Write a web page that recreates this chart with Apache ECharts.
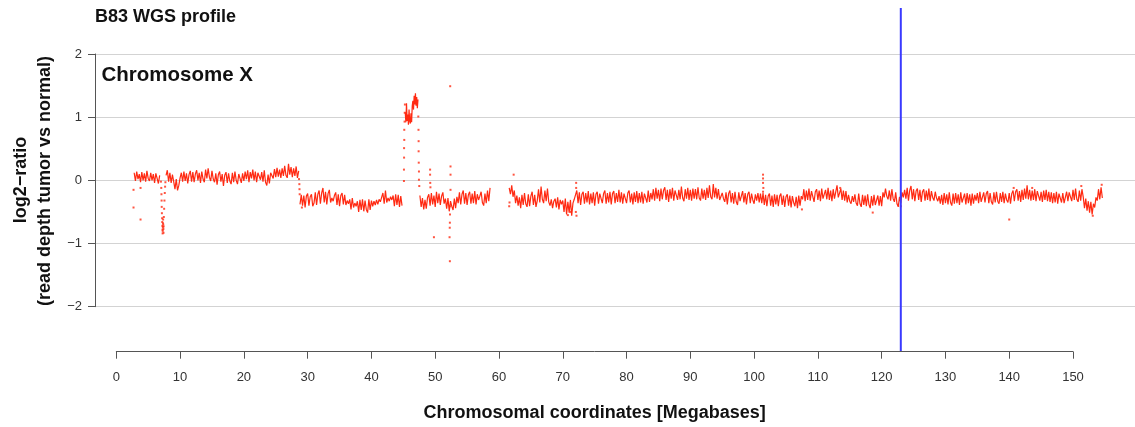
<!DOCTYPE html>
<html>
<head>
<meta charset="utf-8">
<script src="https://cdn.jsdelivr.net/npm/echarts@6/dist/echarts.min.js"></script>
<style>html,body{margin:0;padding:0;background:#fff;}#c{width:1135px;height:427px;}</style>
</head>
<body>
<div id="c"></div>
<script>
// ---- data (log2-ratio in hundredths; bins of 0.2 Mb unless noted) ----
const xTicks = [0,10,20,30,40,50,60,70,80,90,100,110,120,130,140,150];
const yTicks = [-2,-1,0,1,2];
const markerPos = 123.0; // blue vertical marker (Mb)

const segA_start = 2.8;
const segA = [12,-1,14,2,10,-3,13,0,11,-2,15,3,-1,12,0,10,-4,11,3,-5,8];

const segB_start = 7.8;
const segB = [8,16,-2,12,-4,9,
  -2,-14,2,-16,-8,4,
  12,-2,14,-1,11,-5,9,15,-2,13,-3,10,16,0,12,-4,14,2,-3,
  17,3,19,5,-1,15,2,
  -3,11,-7,9,14,-2,10,-9,8,13,-4,11,-1,-6,12,-3,14,0,-6,10,13,-4,11,
  -1,14,2,16,-3,13,3,17,0,14,-3,12,15,1,13,-2,16,
  -3,-8,9,-5,12,
  15,3,18,5,20,6,17,4,19,7,23,8,4,26,9,21,5,19,7,22,4,15];

const segC_start = 28.8;
const segC = [-38,-23,-40,-24,-43,-25,-21,-40,-26,-22,-41,
  -36,-19,-39,-22,-16,-37,-20,-12,-35,-18,-38,-21,-15,
  -35,-28,-33,-24,-19,-39,-22,-41,-24,-20,-38,-23,
  -39,-32,-37,-30,-46,-28,-43,-36,-41,-33,-50,-31,-47,-30,-49,-32,-46,-51,-30,-47,-32,-41,-33,-39,-31,
  -38,-30,-34,-27,-20,-37,-16,-35,-28,-33,-26,-31,-24,-41,-22,-39,-23,-42,-25,-40];

const segD_start = 45.3; // bins of 0.1 Mb
const segD = [108,92,122,94,104,88,112,94,90,106,92,118,126,112,134,120,138,118,132,114,128];

const segE_start = 47.6;
const segE = [-24,-42,-28,-46,-31,-45,-27,
  -22,-40,-20,-38,-24,-42,-18,-36,-21,-39,-25,-19,-37,
  -29,-45,-28,-49,-33,-41,-47,-29,-44,-26,
  -36,-19,-38,-22,-16,-37,-20,-39,-23,-18,-37,-21,-36,-17,-38,-22,-31,-25,-18,-35,-40,-21,-36,-16,-33,-12];

const segF_start = 61.6;
const segF = [-12,-22,-8,-26,-16,
  -36,-24,-40,-27,-44,-23,-39,-20,-37,-42,-22,-41,-25,-18,-39,-23,-42,
  -32,-14,-35,-10,-30,-36,-16,-33,-13,-34,
  -40,-30,-44,-33,-29,-43,-27,-46,-31,-38,
  -32,-50,-29,-54,-34,-51,-31,-56,-36,-30,
  -33,-16,-36,-19,-39,-22,-18,-37,-20,-35,-17,-38,-21,-36,-19,-40,-22,-18,-37,-21,
  -19,-36,-21,-16,-37,-20,-35,-18,-38,-21,-17,-36,-20,-34,-15,-35,-19,-37,-21,-18,
  -36,-20,-16,-35,-21,-38,-19,-34,-17,-36,-20,-35,-18,-37,-21,-19,-35,-16,-34,-20,
  -30,-14,-32,-12,-29,-15,-33,-13,-30,-16,-11,-31,-15,-34,-14,-29,-12,-32,-16,-13,
  -31,-15,-30,-10,-28,-33,-14,-29,-12,-31,-15,-32,-13,-29,-14,-30,-11,-28,-32,-13,
  -29,-15,-31,-12,-28,-8,-26,-30,-6,-27,-12,-29,-14,-31,
  -32,-20,-29,-34,-19,-38,-21,-16,-35,-20,-37,-18,-34,-39,-19,-33,-36,-17,-35,-20,
  -38,-22,-18,-36,-21,-31,-37,-22,-32,-20,-35,-21,
  -36,-20,-39,-23,-41,-25,-21,-40,-24,-42,-22,-38,-23,-41,-25,-21,-39,-24,-42,-26,
  -22,-40,-24,-43,-25,-35,-41,-26,-44,-24,-40,-25,
  -30,-14,-33,-16,-31,-13,-32,-17,-15,-34,-18,-14,-31,-16,-33,-13,-29,-32,-15,-30,
  -12,-31,-16,-33,-14,-29,-32,-8,-27,-30,-13,-31,-16,-32,-17,
  -35,-23,-33,-37,-25,-34,-22,-36,-40,-21,-37,-42,-23,-39,-24,-41,-22,-38,-44,-25,
  -40,-23,-39,-42,-24,-40,-25,-41,
  -19,-27,-13,-25,-30,-16,-32,-14,-29,-34,-19,-37,-42,-26,
  -36,-19,-27,-15,-29,-12,-32,-16,-9,-30,-14,-33,-17,-13,-31,-15,-34,-18,-14,-32,
  -16,-31,-13,-33,-17,-27,-32,-18,-28,
  -33,-25,-37,-23,-39,-20,-36,-22,-38,-19,-35,-40,-21,-37,-20,-36,-22,-39,-19,-35,
  -37,-21,-38,-20,-36,-22,-40,-21,-37,-23,-32,
  -20,-36,-18,-34,-37,-19,-35,-21,-17,-36,-20,-34,-38,-19,-35,-18,-33,-37,-20,-34,
  -18,-36,-21,-31,-35,-20,-37,-21,
  -16,-33,-18,-14,-32,-17,-34,-15,-31,-13,-29,-8,-30,-15,-32,-16,-31,-14,-33,-17,
  -15,-32,-18,-34,-16,-31,-15,-33,-18,
  -34,-19,-36,-20,-35,-18,-37,-21,-19,-35,-20,-36,-34,-18,-33,-19,
  -17,-33,-15,-31,-13,-30,-34,-16,-32,-14,
  -26,-44,-29,-48,-33,-51,-34,-54,-37,-43,-27,
  -32,-14,-30,-11,-28];

// isolated bins (Mb, log2-ratio): transitions, dips and outliers
const sparse = [
  [2.7,-0.15],[2.7,-0.43],[3.8,-0.12],[3.8,-0.62],
  [7.0,-0.02],[7.05,-0.12],[7.08,-0.22],[7.1,-0.32],[7.12,-0.42],[7.15,-0.52],[7.18,-0.6],[7.2,-0.66],[7.22,-0.72],[7.24,-0.78],[7.26,-0.84],[7.28,-0.8],[7.3,-0.74],[7.32,-0.68],[7.34,-0.62],[7.36,-0.7],[7.38,-0.77],[7.4,-0.83],[7.42,-0.73],[7.45,-0.58],[7.5,-0.45],[7.55,-0.32],[7.6,-0.2],[7.65,-0.1],[7.7,-0.03],
  [28.65,0.02],[28.7,-0.06],[28.72,-0.14],[28.75,-0.22],[29.1,-0.43],
  [45.1,-0.01],[45.1,0.17],[45.12,0.36],[45.12,0.51],[45.15,0.64],[45.15,0.8],[45.2,0.93],[45.22,1.07],[45.25,1.2],
  [47.35,1.01],[47.38,0.8],[47.4,0.62],[47.4,0.46],[47.42,0.28],[47.45,0.14],[47.45,0.01],[47.5,-0.09],
  [49.2,0.17],[49.2,0.09],[49.22,-0.04],[49.25,-0.11],[49.8,-0.9],
  [52.35,1.49],[52.4,0.22],[52.4,0.09],[52.4,-0.15],[52.3,-0.41],[52.32,-0.54],[52.3,-0.67],[52.28,-0.75],[52.25,-0.9],[52.3,-1.28],
  [61.6,-0.41],[61.65,-0.35],[62.3,0.09],[70.8,-0.55],[71.2,-0.5],
  [72.1,-0.04],[72.1,-0.12],[72.05,-0.5],[72.15,-0.56],
  [101.4,0.09],[101.4,0.03],[101.4,-0.04],[101.45,-0.12],[101.4,-0.18],
  [107.5,-0.46],[113.5,-0.12],[118.6,-0.51],[123.0,-0.41],[140.0,-0.62],[140.7,-0.12],[143.6,-0.12],
  [151.3,-0.09],[153.1,-0.56],[154.5,-0.07]
];

// ---- build series ----
function bins(start, step, vals) { return vals.map((v, i) => [start + i * step, v / 100]); }
const RED = '#ff2a12';
const FONT = '"Liberation Sans", Arial, Helvetica, sans-serif';
const yTop = 2.73, yBottom = -2.70;   // extent of the plotting region in y units

function seg(data) {
  return { type: 'line', xAxisIndex: 0, yAxisIndex: 0, data: data, showSymbol: false, symbol: 'none',
    clip: false, lineStyle: { color: RED, width: 1.2 }, z: 3, silent: true };
}

const chart = echarts.init(document.getElementById('c'), null, { renderer: 'canvas' });
chart.setOption({
  animation: false,
  backgroundColor: '#fff',
  title: [
    { text: 'B83 WGS profile', left: 95, top: 8.5, padding: 0, textStyle: { fontFamily: FONT, fontSize: 18, fontWeight: 'bold', color: '#111' } },
    { text: 'Chromosome X', left: 101.5, top: 64.5, padding: 0, textStyle: { fontFamily: FONT, fontSize: 20.5, fontWeight: 'bold', color: '#111' } }
  ],
  grid: [
    { left: 95, right: 0, top: 54, height: 252.7, containLabel: false },
    { left: 116.3, width: 956.7, top: 350.7, height: 1, containLabel: false }
  ],
  xAxis: [
    { type: 'value', gridIndex: 0, min: -3.34, max: 159.72, show: false },
    { type: 'value', gridIndex: 1, min: 0, max: 150, interval: 10, position: 'bottom',
      axisLine: { show: true, onZero: false, lineStyle: { color: '#555', width: 1 } },
      axisTick: { show: true, length: 7, lineStyle: { color: '#555' } },
      axisLabel: { show: true, margin: 19, fontFamily: FONT, fontSize: 13, color: '#333',
        formatter: v => xTicks.indexOf(v) >= 0 ? String(v) : '' },
      splitLine: { show: false },
      name: 'Chromosomal coordinates [Megabases]', nameLocation: 'middle', nameGap: 52,
      nameTextStyle: { fontFamily: FONT, fontSize: 18, fontWeight: 'bold', color: '#111' } }
  ],
  yAxis: [
    { type: 'value', gridIndex: 0, min: -2, max: 2, interval: 1, position: 'left',
      axisLine: { show: true, onZero: false, lineStyle: { color: '#555', width: 1 } },
      axisTick: { show: true, length: 7, lineStyle: { color: '#555' } },
      axisLabel: { show: true, margin: 13, fontFamily: FONT, fontSize: 13, color: '#333',
        formatter: v => yTicks.indexOf(v) >= 0 ? String(v).replace('-', '\u2212') : '' },
      splitLine: { show: true, lineStyle: { color: '#d3d3d3', width: 1 } } },
    { type: 'value', gridIndex: 1, show: false, min: 0, max: 1 }
  ],
  graphic: [
    { type: 'text', x: 21, y: 180, rotation: Math.PI / 2,
      style: { text: 'log2\u2212ratio', fontFamily: FONT, fontSize: 18, fontWeight: 'bold', fill: '#111', textAlign: 'center', textVerticalAlign: 'middle' } },
    { type: 'text', x: 45, y: 181, rotation: Math.PI / 2,
      style: { text: '(read depth tumor vs normal)', fontFamily: FONT, fontSize: 18, fontWeight: 'bold', fill: '#111', textAlign: 'center', textVerticalAlign: 'middle' } }
  ],
  series: [
    seg(bins(segA_start, 0.2, segA)),
    seg(bins(segB_start, 0.2, segB)),
    seg(bins(segC_start, 0.2, segC)),
    seg(bins(segD_start, 0.1, segD)),
    seg(bins(segE_start, 0.2, segE)),
    seg(bins(segF_start, 0.2, segF)),
    { type: 'scatter', xAxisIndex: 0, yAxisIndex: 0, data: sparse, symbol: 'rect', symbolSize: 2,
      itemStyle: { color: RED }, clip: false, z: 3, silent: true },
    { type: 'line', xAxisIndex: 0, yAxisIndex: 0, data: [[markerPos, yTop], [markerPos, yBottom]],
      showSymbol: false, symbol: 'none', clip: false, lineStyle: { color: '#3a3aff', width: 2 }, z: 4, silent: true }
  ]
});
</script>
</body>
</html>
